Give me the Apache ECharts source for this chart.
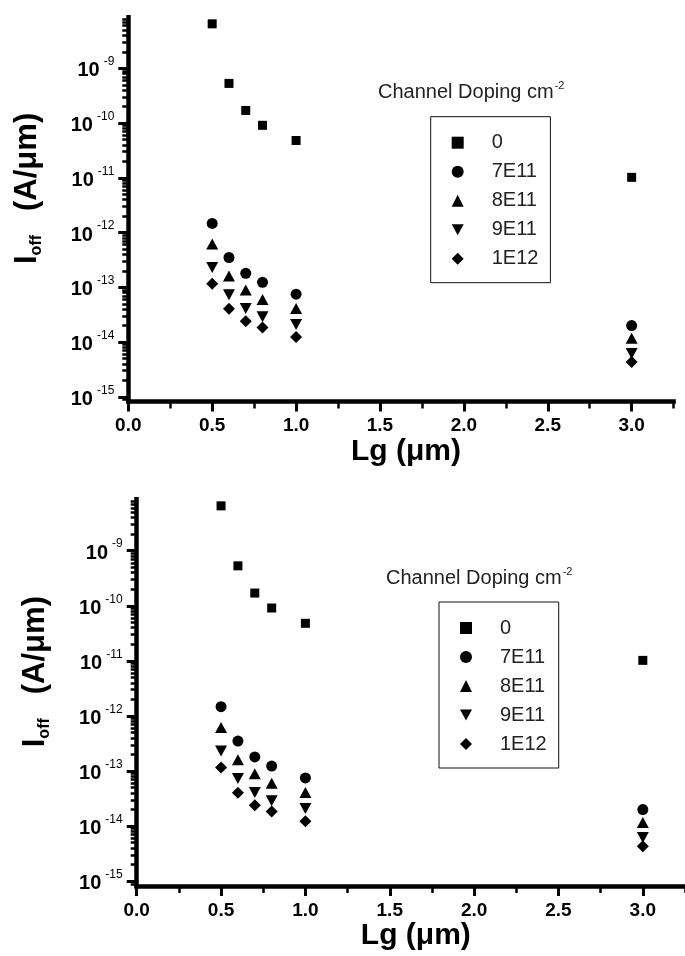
<!DOCTYPE html>
<html>
<head>
<meta charset="utf-8">
<script src="https://cdn.jsdelivr.net/npm/echarts@6/dist/echarts.min.js"></script>
<style>
  html, body { margin: 0; padding: 0; background: #fff; }
  #main { width: 685px; height: 956px; }
</style>
</head>
<body>
<div id="main"></div>
<script>
// Gate length Lg (um) of the measured devices
const gateLengths = [0.5, 0.6, 0.7, 0.8, 1.0, 3.0];

// Channel doping levels (cm^-2) and the off-state current Ioff (A/um) for each
const dopingLabels = ['0', '7E11', '8E11', '9E11', '1E12'];
const ioffUndoped = [6.5e-9, 5.3e-10, 1.7e-10, 9.1e-11, 4.8e-11, 1.02e-11];
const ioff7E11 = [1.47e-12, 3.5e-13, 1.8e-13, 1.23e-13, 7.5e-14, 2.0e-14];
const ioff8E11 = [6.2e-13, 1.6e-13, 8.9e-14, 6.0e-14, 4.1e-14, 1.17e-14];
const ioff9E11 = [2.3e-13, 7.3e-14, 4.1e-14, 2.9e-14, 2.1e-14, 6.2e-15];
const ioff1E12 = [1.16e-13, 4.05e-14, 2.4e-14, 1.84e-14, 1.23e-14, 4.3e-15];

// Tick positions
const xMajorTicks = [0, 0.5, 1.0, 1.5, 2.0, 2.5, 3.0];
const xMinorTicks = [0.25, 0.75, 1.25, 1.75, 2.25, 2.75, 3.25];
const yDecadeExponents = [-15, -14, -13, -12, -11, -10, -9];
const yMinorMultipliers = [2, 3, 4, 5, 6, 7, 8, 9];

const X_MIN = 0, X_MAX = 3.25;
const Y_MIN = 8.2e-16, Y_MAX = 8.55e-9;

const FONT = "'Liberation Sans', Arial, Helvetica, sans-serif";
const INK = '#000';

const ioffSeries = [ioffUndoped, ioff7E11, ioff8E11, ioff9E11, ioff1E12];
const downTriangle = 'path://M0,0L12,0L6,11Z';
const markerShapes = ['rect', 'circle', 'triangle', downTriangle, 'diamond'];
const markerSizes = [9, 11, [12, 11], [12, 11], [12, 12]];

const yMajorValues = yDecadeExponents.map(e => Math.pow(10, e));
const yMinorValues = [];
yDecadeExponents.concat([-16]).forEach(e => {
  yMinorMultipliers.forEach(m => {
    const v = m * Math.pow(10, e);
    if (v > Y_MIN && v < Y_MAX) yMinorValues.push(v);
  });
});

// Two identical panels, stacked
const panels = [
  { left: 128.3, top: 17.3, width: 545.3, height: 384.2, legendLeft: 430.7, legendTop: 116.7, titleLeft: 378, titleTop: 80 },
  { left: 136.7, top: 499.3, width: 548.3, height: 386.7, legendLeft: 439, legendTop: 602, titleLeft: 386, titleTop: 566 }
];

const grid = [], xAxis = [], yAxis = [], series = [], legend = [], title = [];

panels.forEach((p, pi) => {
  grid.push({ left: p.left, top: p.top, width: p.width, height: p.height, containLabel: false });

  // main x axis: line, major ticks, labels, name
  xAxis.push({
    type: 'value', gridIndex: pi, min: X_MIN, max: X_MAX, position: 'bottom',
    axisLine: { show: true, onZero: false, lineStyle: { color: INK, width: 4.5, cap: 'square' } },
    axisTick: { show: true, inside: false, length: 10, customValues: xMajorTicks, lineStyle: { color: INK, width: 3 } },
    axisLabel: { show: true, margin: 15, customValues: xMajorTicks, color: INK, fontFamily: FONT, fontSize: 19, fontWeight: 'bold',
      formatter: v => v.toFixed(1) },
    splitLine: { show: false },
    name: 'Lg (μm)', nameLocation: 'middle', nameGap: 34,
    nameTextStyle: { color: INK, fontFamily: FONT, fontSize: 30, fontWeight: 'bold', padding: [0, 0, 0, 10] }
  });
  // minor x ticks
  xAxis.push({
    type: 'value', gridIndex: pi, min: X_MIN, max: X_MAX, position: 'bottom',
    axisLine: { show: false, onZero: false },
    axisTick: { show: true, inside: false, length: 7, customValues: xMinorTicks, lineStyle: { color: INK, width: 2.5 } },
    axisLabel: { show: false }, splitLine: { show: false }
  });

  // main log y axis
  yAxis.push({
    type: 'log', logBase: 10, gridIndex: pi, min: Y_MIN, max: Y_MAX, position: 'left',
    axisLine: { show: true, onZero: false, lineStyle: { color: INK, width: 4.5, cap: 'square' } },
    axisTick: { show: true, inside: false, length: 10, customValues: yMajorValues, lineStyle: { color: INK, width: 3 } },
    axisLabel: {
      show: true, margin: 14, customValues: yMajorValues,
      formatter: v => '{b|10}{s|' + Math.round(Math.log10(v)) + '}',
      rich: {
        b: { fontFamily: FONT, fontSize: 20, fontWeight: 'bold', color: INK, lineHeight: 25, verticalAlign: 'bottom' },
        s: { fontFamily: FONT, fontSize: 12, fontWeight: 'normal', color: INK, verticalAlign: 'top', padding: [0, 0, 0, 4] }
      }
    },
    splitLine: { show: false },
    name: '{i|I}{o|off}{u|(A/μm)}', nameLocation: 'middle', nameGap: 84,
    nameTextStyle: {
      padding: [0, 0, 0, 42],
      rich: {
        i: { fontFamily: FONT, fontSize: 31, fontWeight: 'bold', color: INK, lineHeight: 34 },
        o: { fontFamily: FONT, fontSize: 16, fontWeight: 'bold', color: INK, verticalAlign: 'bottom' },
        u: { fontFamily: FONT, fontSize: 31, fontWeight: 'bold', color: INK, lineHeight: 34, padding: [0, 0, 0, 24] }
      }
    }
  });
  // minor y ticks
  yAxis.push({
    type: 'log', logBase: 10, gridIndex: pi, min: Y_MIN, max: Y_MAX, position: 'left',
    axisLine: { show: false, onZero: false },
    axisTick: { show: true, inside: false, length: 6, customValues: yMinorValues, lineStyle: { color: INK, width: 2.5 } },
    axisLabel: { show: false }, splitLine: { show: false }
  });

  dopingLabels.forEach((name, si) => {
    series.push({
      type: 'scatter', name: name,
      xAxisIndex: pi * 2, yAxisIndex: pi * 2,
      symbol: markerShapes[si], symbolSize: markerSizes[si],
      itemStyle: { color: INK, opacity: 1 },
      emphasis: { disabled: true },
      data: gateLengths.map((x, i) => [x, ioffSeries[si][i]])
    });
  });

  legend.push({
    orient: 'vertical', left: p.legendLeft, top: p.legendTop,
    padding: [16, 12, 14, 21], itemGap: 9, itemWidth: 12, itemHeight: 12,
    borderColor: '#111', borderWidth: 1, backgroundColor: '#fff',
    selectedMode: false,
    textStyle: { fontFamily: FONT, fontSize: 20, fontWeight: 'normal', color: '#222', lineHeight: 20, padding: [0, 0, 0, 23] },
    data: dopingLabels.map((n, si) => ({ name: n, icon: markerShapes[si], itemStyle: { color: INK } }))
  });

  title.push({
    left: p.titleLeft, top: p.titleTop, padding: 0,
    text: '{a|Channel Doping cm}{b|-2}',
    textStyle: {
      fontWeight: 'normal',
      rich: {
        a: { fontFamily: FONT, fontSize: 20, fontWeight: 'normal', color: '#222', lineHeight: 22, verticalAlign: 'bottom' },
        b: { fontFamily: FONT, fontSize: 11, fontWeight: 'normal', color: '#222', verticalAlign: 'top', padding: [0, 0, 0, 1] }
      }
    }
  });
});

const chart = echarts.init(document.getElementById('main'), null, { renderer: 'canvas' });
chart.setOption({
  animation: false,
  backgroundColor: '#fff',
  title, grid, xAxis, yAxis, legend, series
});
</script>
</body>
</html>
